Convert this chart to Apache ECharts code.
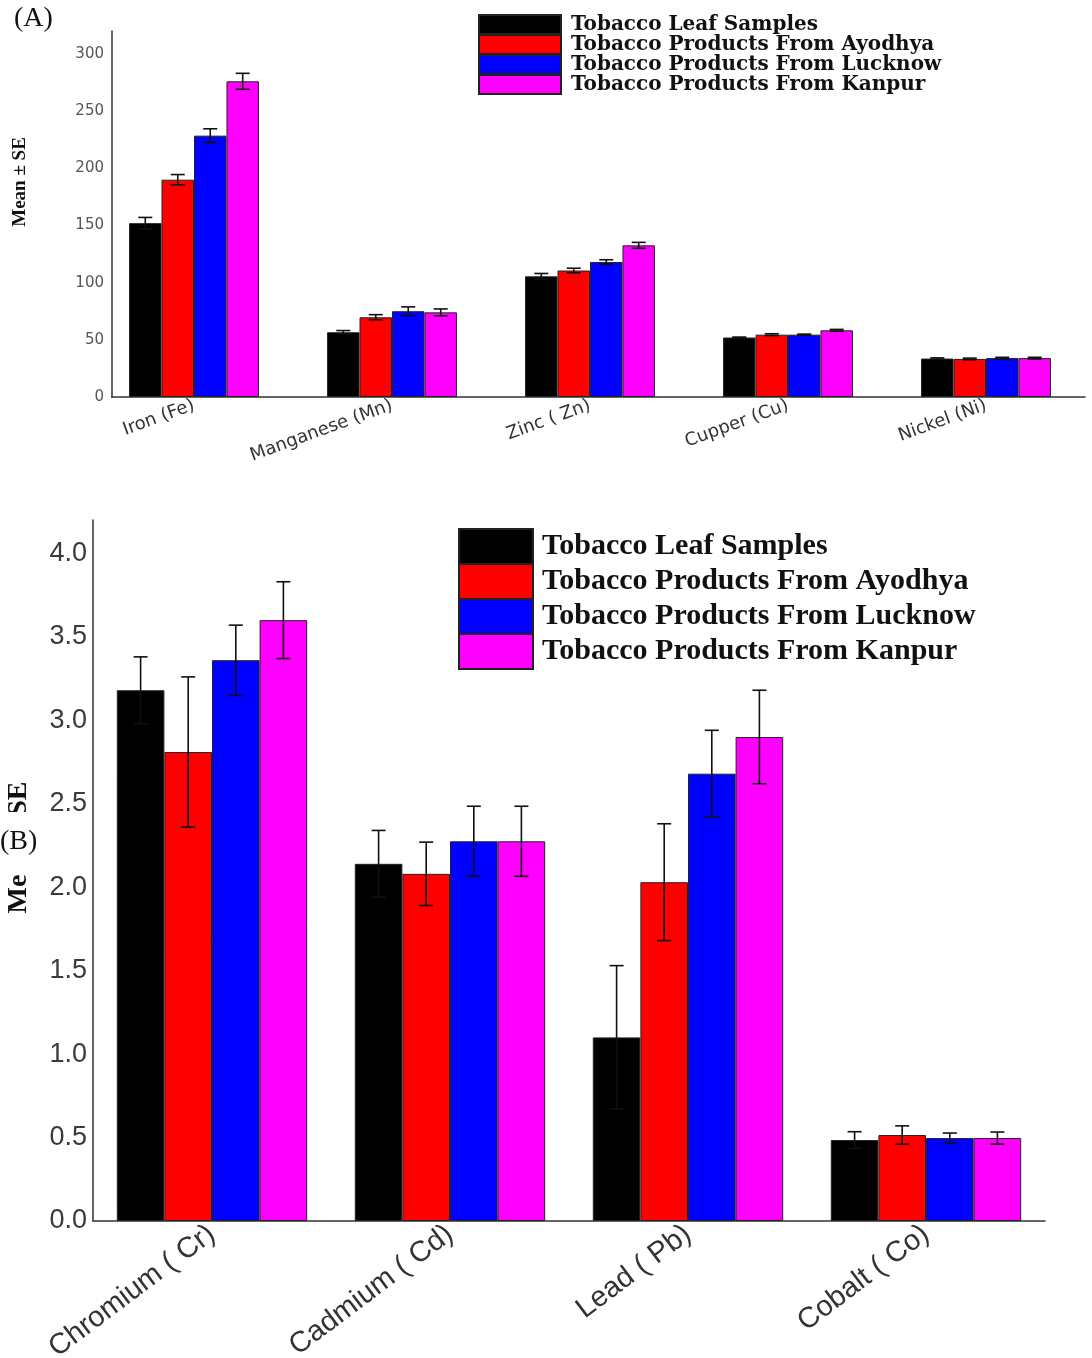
<!DOCTYPE html>
<html>
<head>
<meta charset="utf-8">
<script src="https://cdn.jsdelivr.net/npm/echarts@6/dist/echarts.min.js"></script>
<style>
html,body{margin:0;padding:0;background:#fff;}
#c{width:1092px;height:1358px;}
</style>
</head>
<body>
<div id="c"></div>
<script>
// ---------- DATA ----------
const seriesNames = ['Tobacco Leaf Samples','Tobacco Products From Ayodhya','Tobacco Products From Lucknow','Tobacco Products From Kanpur'];
const colors = ['#000000','#ff0000','#0000ff','#ff00ff'];

// Panel A
const catsA = ['Iron (Fe)','Manganese (Mn)','Zinc ( Zn)','Cupper (Cu)','Nickel (Ni)'];
const leafA     = [152, 56.6, 105.5, 52, 33.6];
const ayodhyaA  = [190, 69.7, 110.6, 54.5, 33.3];
const lucknowA  = [228.5, 75, 118, 54.5, 34];
const kanpurA   = [276, 74, 132.6, 58.3, 34];
const leafSeA    = [5, 1.5, 2.5, 0.4, 0.6];
const ayodhyaSeA = [4.5, 2.3, 2, 0.8, 0.7];
const lucknowSeA = [6, 3.8, 2, 0.5, 0.7];
const kanpurSeA  = [7, 3, 2.6, 0.8, 0.7];
const ticksA = [0, 50, 100, 150, 200, 250, 300];

// Panel B
const catsB = ['Chromium ( Cr)','Cadmium ( Cd)','Lead ( Pb)','Cobalt ( Co)'];
const leafB     = [3.18, 2.14, 1.10, 0.485];
const ayodhyaB  = [2.81, 2.08, 2.03, 0.515];
const lucknowB  = [3.36, 2.275, 2.68, 0.497];
const kanpurB   = [3.60, 2.275, 2.90, 0.497];
const leafSeB    = [0.20, 0.20, 0.43, 0.05];
const ayodhyaSeB = [0.45, 0.19, 0.35, 0.055];
const lucknowSeB = [0.21, 0.21, 0.26, 0.03];
const kanpurSeB  = [0.23, 0.21, 0.28, 0.036];
const ticksB = [0.0, 0.5, 1.0, 1.5, 2.0, 2.5, 3.0, 3.5, 4.0];

// ---------- BUILD ----------
const meansA = [leafA, ayodhyaA, lucknowA, kanpurA];
const sesA = [leafSeA, ayodhyaSeA, lucknowSeA, kanpurSeA];
const meansB = [leafB, ayodhyaB, lucknowB, kanpurB];
const sesB = [leafSeB, ayodhyaSeB, lucknowSeB, kanpurSeB];

const pctA = 0.164, pctB = 0.2;

function errData(means, ses) {
  const out = [];
  means.forEach((arr, k) => arr.forEach((m, i) => out.push([i, m, ses[k][i], k])));
  return out;
}
function errRender(pct, capHalf) {
  return function (params, api) {
    const x = api.value(0), m = api.value(1), se = api.value(2), k = api.value(3);
    const band = api.size([1, 0])[0];
    const off = (k - 1.5) * band * pct;
    const t = api.coord([x, m + se]);
    const b = api.coord([x, m - se]);
    const cx = t[0] + off;
    const st = {stroke: '#111', lineWidth: 1.6};
    return {
      type: 'group',
      children: [
        {type: 'line', shape: {x1: cx, y1: t[1], x2: cx, y2: b[1]}, style: st},
        {type: 'line', shape: {x1: cx - capHalf, y1: t[1], x2: cx + capHalf, y2: t[1]}, style: st},
        {type: 'line', shape: {x1: cx - capHalf, y1: b[1], x2: cx + capHalf, y2: b[1]}, style: st}
      ]
    };
  };
}

const series = [];
meansA.forEach((arr, k) => series.push({
  type: 'bar', name: seriesNames[k], xAxisIndex: 0, yAxisIndex: 0,
  data: arr, barWidth: (pctA * 100) + '%', barGap: '0%',
  itemStyle: {color: colors[k], borderColor: '#222', borderWidth: 1}
}));
meansB.forEach((arr, k) => series.push({
  type: 'bar', name: seriesNames[k], xAxisIndex: 1, yAxisIndex: 1,
  data: arr, barWidth: (pctB * 100) + '%', barGap: '0%',
  itemStyle: {color: colors[k], borderColor: '#222', borderWidth: 1}
}));
series.push({type: 'custom', name: 'errA', xAxisIndex: 0, yAxisIndex: 0, z: 10,
  renderItem: errRender(pctA, 7), data: errData(meansA, sesA)});
series.push({type: 'custom', name: 'errB', xAxisIndex: 1, yAxisIndex: 1, z: 10,
  renderItem: errRender(pctB, 7), data: errData(meansB, sesB)});

const chart = echarts.init(document.getElementById('c'), null, {renderer: 'canvas'});
chart.setOption({
  backgroundColor: '#ffffff',
  animation: false,
  grid: [
    {left: 95, width: 990, top: 31, height: 366, containLabel: false, outerBoundsMode: 'none'},
    {left: 93, width: 952, top: 520, height: 701, containLabel: false, outerBoundsMode: 'none'}
  ],
  legend: [
    {
      data: seriesNames, orient: 'vertical', left: 478, top: 14, padding: 0,
      itemWidth: 82, itemHeight: 19, itemGap: -1, icon: 'rect',
      textStyle: {fontFamily: 'DejaVu Serif', fontWeight: 'bold', fontSize: 20, lineHeight: 19, color: '#111', padding: [0, 0, 0, 5]}
    },
    {
      data: seriesNames, orient: 'vertical', left: 458, top: 528, padding: 0,
      itemWidth: 74, itemHeight: 35, itemGap: -2, icon: 'rect',
      textStyle: {fontFamily: 'Liberation Serif', fontWeight: 'bold', fontSize: 30, lineHeight: 33, color: '#111', padding: [2, 0, 0, 4]}
    }
  ],
  xAxis: [
    {
      type: 'category', gridIndex: 0, data: catsA,
      axisLine: {lineStyle: {color: '#333', width: 1.5}},
      axisTick: {show: false},
      axisLabel: {rotate: 20, margin: 8, fontFamily: 'DejaVu Sans', fontSize: 18, color: '#333'}
    },
    {
      type: 'category', gridIndex: 1, data: catsB,
      axisLine: {lineStyle: {color: '#333', width: 1.5}},
      axisTick: {show: false},
      axisLabel: {rotate: 37, margin: 10, fontFamily: 'Liberation Sans', fontSize: 29, color: '#333'}
    }
  ],
  yAxis: [
    {
      type: 'value', gridIndex: 0, min: ticksA[0], max: 320, interval: ticksA[1] - ticksA[0], offset: -17,
      axisLine: {show: true, lineStyle: {color: '#333', width: 1.5}},
      axisTick: {show: false}, splitLine: {show: false},
      axisLabel: {showMaxLabel: false, margin: 1, fontFamily: 'DejaVu Sans', fontSize: 15, color: '#555',
        backgroundColor: '#fff', padding: [3, 7, 3, 6]},
      name: 'Mean ± SE', nameLocation: 'middle', nameGap: 82,
      nameTextStyle: {fontFamily: 'Liberation Serif', fontWeight: 'bold', fontSize: 19, color: '#111', padding: [0, 0, 0, 64]}
    },
    {
      type: 'value', gridIndex: 1, min: ticksB[0], max: 4.2, interval: ticksB[1] - ticksB[0],
      axisLine: {show: true, lineStyle: {color: '#333', width: 1.5}},
      axisTick: {show: false}, splitLine: {show: false},
      axisLabel: {showMaxLabel: false, margin: 6, fontFamily: 'Liberation Sans', fontSize: 27, color: '#3a3a3a',
        formatter: v => v.toFixed(1)},
      name: 'Mean ± SE', nameLocation: 'middle', nameGap: 60,
      nameTextStyle: {fontFamily: 'Liberation Serif', fontWeight: 'bold', fontSize: 28, color: '#111', padding: [0, 0, 0, 46]}
    }
  ],
  graphic: [
    {type: 'text', left: 14, top: 5, z: 100,
      style: {text: '(A)', font: '28px "Liberation Serif"', fill: '#111'}},
    {type: 'text', left: 0, top: 812, z: 100,
      style: {text: '(B)', font: '28px "Liberation Serif"', fill: '#111', backgroundColor: '#fff', padding: [16, 6, 18, 0]}}
  ],
  series: series
});
</script>
</body>
</html>
